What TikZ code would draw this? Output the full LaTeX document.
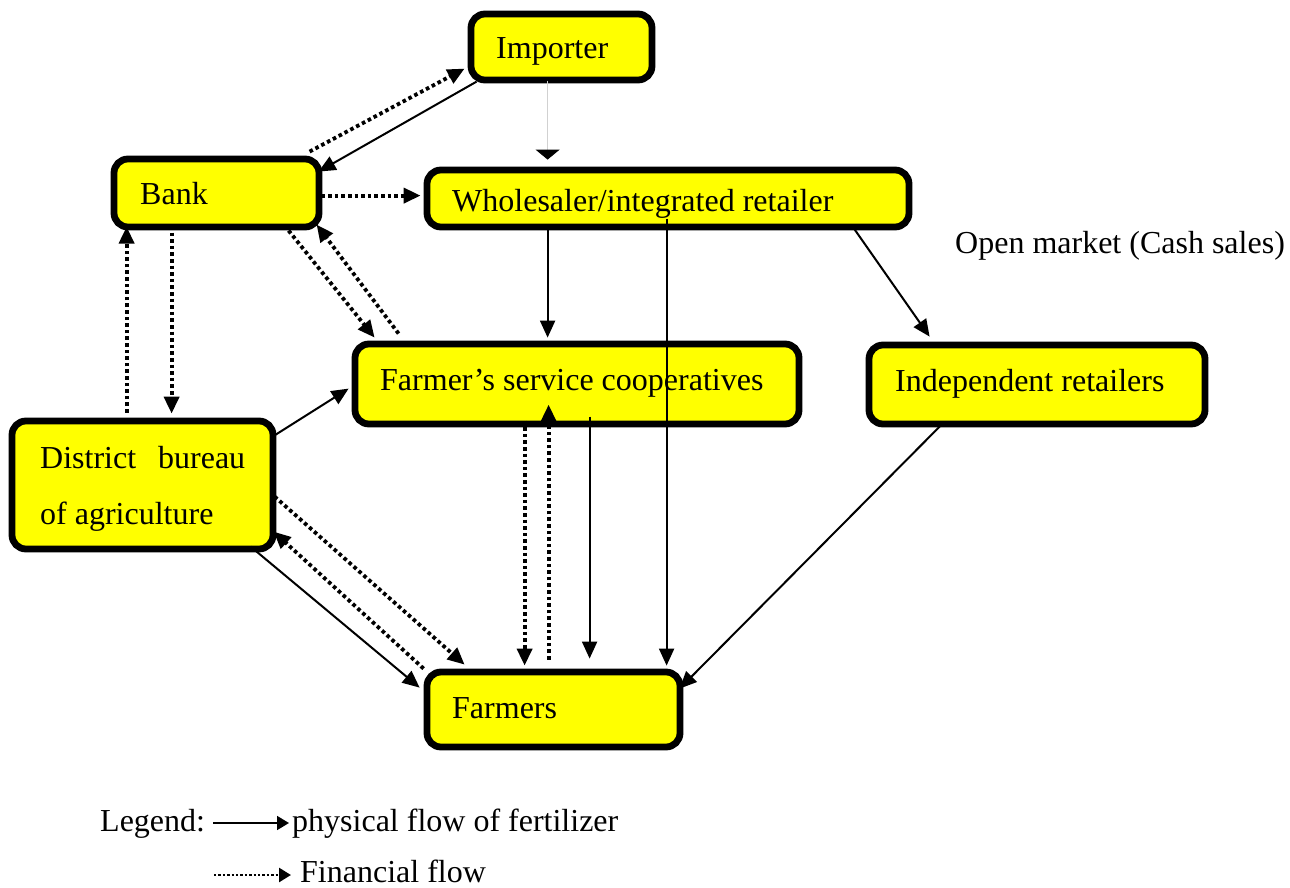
\documentclass[tikz,border=0pt]{standalone}
\usepackage{fontspec}
\setmainfont{Liberation Serif}
\usetikzlibrary{arrows.meta}
\definecolor{boxyellow}{RGB}{255,255,0}
\begin{document}
\begin{tikzpicture}[x=1pt,y=-1pt,
  box/.style={draw=black, line width=6.8pt, fill=boxyellow, rounded corners=14pt, inner sep=0pt},
  lbl/.style={anchor=base west, inner sep=0pt, font=\fontsize{32}{38}\selectfont},
  tip/.style={-{Triangle[length=17pt,width=15pt]}},
  phys/.style={tip, line width=2pt},
  fin/.style={tip, line width=3.8pt, dash pattern=on 3.6pt off 3pt},
  feed/.style={line width=1pt, draw=black!18, -{Triangle[length=10pt,width=24pt,color=black]}},
  legtip/.style={-{Triangle[length=12pt,width=14pt]}},
]
\useasboundingbox (0,0) rectangle (1290,888);

% boxes
\node[box, minimum width=181pt, minimum height=66pt]  (imp)   at (561.5,47) {};
\node[box, minimum width=205pt, minimum height=68pt]  (bank)  at (216.5,193) {};
\node[box, minimum width=482pt, minimum height=57pt]  (whole) at (668,198.5) {};
\node[box, minimum width=444pt, minimum height=80pt]  (fsc)   at (577,384) {};
\node[box, minimum width=336pt, minimum height=79pt]  (ind)   at (1037,384.5) {};
\node[box, minimum width=261pt, minimum height=128pt] (dist)  at (142.5,485) {};
\node[box, minimum width=253pt, minimum height=75pt]  (farm)  at (553.5,709.5) {};

% texts
\node[lbl] (imp-t)   at (496,59)  {Importer};
\node[lbl] (bank-t)  at (140,204) {Bank};
\node[lbl] (whole-t) at (452,211) {Wholesaler/integrated retailer};
\node[lbl] (open-t)  at (955,253) {Open market (Cash sales)};
\node[lbl] (fsc-t)   at (380,390) {Farmer’s service cooperatives};
\node[lbl] (ind-t)   at (895,391) {Independent retailers};
\node[lbl] (dist-t1) at (40,468)  {\hbox to 205pt{District\hfill bureau}};
\node[lbl] (dist-t2) at (40,524)  {of agriculture};
\node[lbl] (farm-t)  at (452,718) {Farmers};

% flows
\draw[fin]  ([shift={(199,-4)}]bank.north west) -- ([shift={(-3,58)}]imp.north west);
\draw[phys] ([shift={(9,71)}]imp.north west) -- ([shift={(208,16)}]bank.north west);
\draw[feed] ([shift={(80,70)}]imp.north west) -- ([shift={(124,-7)}]whole.north west);
\draw[fin]  ([shift={(211,40)}]bank.north west) -- ([shift={(-3,29)}]whole.north west);
\draw[phys] ([shift={(124,60)}]whole.north west) -- ([shift={(196,-3)}]fsc.north west);
\draw[phys] ([shift={(243,52)}]whole.north west) -- ([shift={(243,-3)}]farm.north west);
\draw[phys] ([shift={(429,60)}]whole.north west) -- ([shift={(64,-5)}]ind.north west);
\draw[fin]  ([shift={(178,75)}]bank.north west) -- ([shift={(23,-3)}]fsc.north west);
\draw[fin]  ([shift={(47,-7)}]fsc.north west) -- ([shift={(206,69)}]bank.north west);
\draw[fin]  ([shift={(61,77)}]bank.north west) -- ([shift={(163,-4)}]dist.north west);
\draw[fin]  ([shift={(118,-5)}]dist.north west) -- ([shift={(16,71)}]bank.north west);
\draw[phys] ([shift={(264,19)}]dist.north west) -- ([shift={(-3,48)}]fsc.north west);
\draw[phys] ([shift={(242,129)}]dist.north west) -- ([shift={(-4,19)}]farm.north west);
\draw[fin]  ([shift={(266,79)}]dist.north west) -- ([shift={(41,-4)}]farm.north west);
\draw[fin]  (farm.north west) -- ([shift={(265,114)}]dist.north west);
\draw[fin]  ([shift={(173,80)}]fsc.north west) -- ([shift={(101,-3)}]farm.north west);
\draw[fin]  ([shift={(125,-9)}]farm.north west) -- ([shift={(197,64)}]fsc.north west);
\draw[phys] ([shift={(238,76)}]fsc.north west) -- ([shift={(166,-10)}]farm.north west);
\draw[phys] ([shift={(76,83)}]ind.north west) -- ([shift={(256,20)}]farm.north west);

% legend
\node[lbl] (leg-t)  at (100,831) {Legend:};
\coordinate (leg1a) at (213,823);
\coordinate (leg1b) at (289,823);
\node[lbl] (leg-p)  at (292,831) {physical flow of fertilizer};
\draw[legtip, line width=1.8pt] (leg1a) -- (leg1b);
\coordinate (leg2a) at (214,875);
\coordinate (leg2b) at (291,875);
\node[lbl] (leg-f)  at (300,882) {Financial flow};
\draw[legtip, line width=2.6pt, dash pattern=on 2.4pt off 2pt] (leg2a) -- (leg2b);
\end{tikzpicture}
\end{document}
